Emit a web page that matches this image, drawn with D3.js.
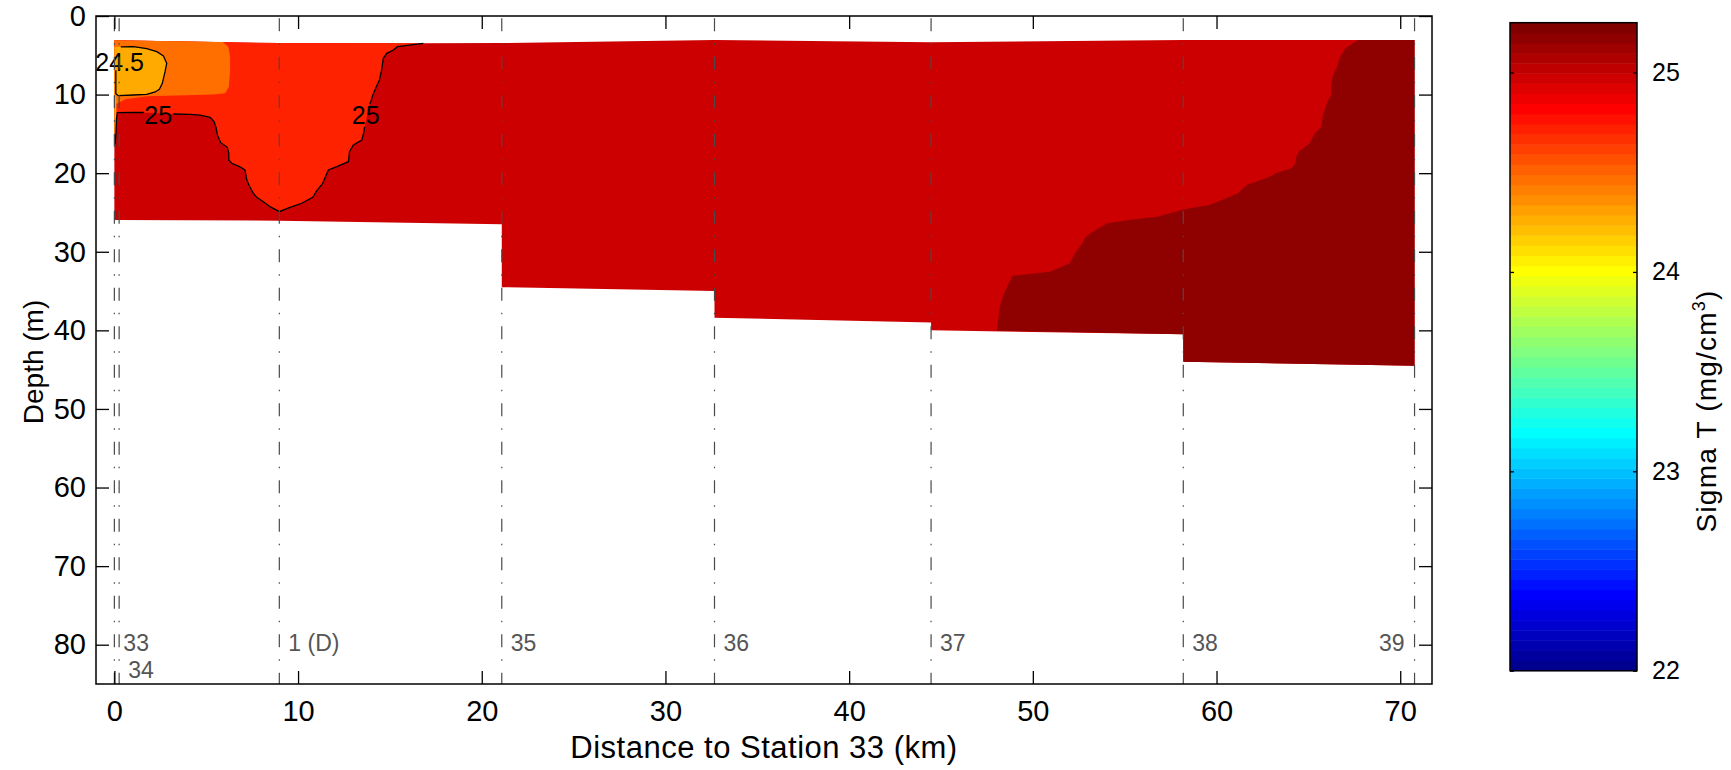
<!DOCTYPE html>
<html><head><meta charset="utf-8">
<script src="https://cdn.jsdelivr.net/npm/d3@7"></script>
<style>body{margin:0;background:#fff}svg{display:block}text{font-family:"Liberation Sans",Arial,sans-serif}</style>
</head><body>
<svg id="chart" width="1731" height="770"></svg>
<script>
// ---------------- DATA ----------------
const xTicks = [0, 10, 20, 30, 40, 50, 60, 70];
const yTicks = [0, 10, 20, 30, 40, 50, 60, 70, 80];
const cbTicks = [22, 23, 24, 25];
const stationNames = ["33", "34", "1 (D)", "35", "36", "37", "38", "39"];
const stationKm    = [0, 0.26, 8.98, 21.09, 32.67, 44.46, 58.19, 70.78];
const stationLabelDepth = [80.8, 84.2, 80.8, 80.8, 80.8, 80.8, 80.8, 80.8];
const levels = [24.25, 24.5, 24.75, 25, 25.25];

// section outline [km, depth]
const surface = [[0,3.1],[8.98,3.45],[16.82,3.48],[21.09,3.45],[32.67,3.05],[44.46,3.35],[58.19,3.05],[70.78,3.05]];
const seabed  = [[70.78,44.5],[58.19,44.0],[58.19,40.5],[44.46,40.0],[44.46,39.0],[32.67,38.4],[32.67,35.0],[21.09,34.5],[21.09,26.5],[8.98,26.05],[0,25.95]];

// sigma-t > 25.25 region
const band2525 = [[67.70,3.05],[67.02,4.11],[66.69,5.38],[66.57,6.45],[66.34,7.51],[66.24,8.78],[66.24,10.05],[66.04,10.9],[65.79,12.6],[65.71,14.08],[65.36,14.93],[65.07,16.2],[64.48,17.26],[64.35,17.9],[64.29,18.74],[64.09,19.38],[63.22,20.01],[62.83,20.52],[61.66,21.5],[61.17,22.56],[60.39,23.32],[59.61,24.05],[58.34,24.55],[57.76,24.9],[56.78,25.53],[55.22,25.95],[54.05,26.38],[53.27,27.44],[52.88,28.08],[52.69,28.93],[52.30,30.2],[52.01,31.47],[50.94,32.53],[48.89,33.08],[48.60,34.44],[48.40,35.5],[48.21,36.98],[48.11,38.68],[48.05,40.04],[58.19,40.5],[58.19,44.0],[70.78,44.5],[70.78,3.05]];

// sigma-t = 25 contour, split where labels sit
const c25a = [[0.04,16.28],[0.09,14.93],[0.11,13.23],[0.16,12.30],[1.03,12.26],[1.6,12.28]];
const c25b = [[3.21,12.47],[4.12,12.51],[4.67,12.6],[5.21,12.89],[5.43,13.44],[5.54,14.25],[5.61,15.14],[5.79,16.12],[6.15,16.71],[6.23,17.47],[6.23,18.32],[6.39,18.74],[6.81,19.17],[7.11,19.59],[7.21,20.87],[7.35,21.63],[7.57,22.56],[7.75,23.07],[8.11,23.63],[8.48,24.26],[8.98,24.9],[9.56,24.34],[10.2,23.83],[10.8,23.07],[11.02,22.22],[11.34,21.29],[11.65,19.59],[12.11,19.17],[12.74,18.54],[12.8,17.26],[13.01,16.41],[13.47,15.78],[13.59,14.72],[13.62,14.1]];
const c25c = [[13.9,11.2],[13.96,10.9],[14.07,10.05],[14.25,9.08],[14.43,8.14],[14.55,6.87],[14.64,5.39],[14.83,4.75],[15.19,4.33],[15.41,3.9],[16.82,3.48]];
// sigma-t = 24.5 contour (line part) and filled interior
const c245 = [[0.08,6.9],[0.08,9.9],[0.22,10.14],[1.04,10.05],[1.76,9.97],[2.22,9.67],[2.45,9.33],[2.61,8.57],[2.76,7.08],[2.85,6.02],[2.67,5.09],[2.31,4.54],[1.76,4.16],[1.04,3.9],[0.35,3.92]];
const band2425 = [[0,3.95],[0.35,3.92],[1.04,3.9],[1.76,4.16],[2.31,4.54],[2.67,5.09],[2.85,6.02],[2.76,7.08],[2.61,8.57],[2.45,9.33],[2.22,9.67],[1.76,9.97],[1.04,10.05],[0.22,10.14],[0,10.1]];
const band2425b = [[0,10.1],[0.1,10.3],[0.11,12.3],[0.04,16.28],[0,16.3]];
const band245 = [[0,3.1],[5.9,3.3],[6.2,3.9],[6.3,5.2],[6.3,6.9],[6.23,9.0],[6.03,9.84],[5.39,10.0],[1.76,10.2],[0.6,10.6],[0.1,11.2],[0,11.2]];
const contourLabels = [
  {text: "24.5", km: 0.29, depth: 5.8},
  {text: "25", km: 2.39, depth: 12.55},
  {text: "25", km: 13.68, depth: 12.55}
];

// ---------------- STYLE ----------------
const bandColors = ["#FFAA00", "#FF6F00", "#FF2200", "#CC0000", "#8F0000"];
const fillColor = d3.scaleOrdinal(levels, bandColors);
const FONT = '"Liberation Sans", Arial, sans-serif';

function jet(m) {
  const n = Math.ceil(m / 4);
  const u = [];
  for (let i = 1; i <= n; i++) u.push(i / n);
  for (let i = 1; i < n; i++) u.push(1);
  for (let i = n; i >= 1; i--) u.push(i / n);
  const g0 = Math.ceil(n / 2) - (m % 4 === 1 ? 1 : 0);
  const R = new Array(m).fill(0), G = new Array(m).fill(0), B = new Array(m).fill(0);
  u.forEach((v, k) => {
    const g = g0 + k + 1, r = g + n, b = g - n;
    if (g >= 1 && g <= m) G[g - 1] = v;
    if (r >= 1 && r <= m) R[r - 1] = v;
    if (b >= 1 && b <= m) B[b - 1] = v;
  });
  return d3.range(m).map(i => d3.rgb(R[i] * 255, G[i] * 255, B[i] * 255).formatHex());
}

// ---------------- DRAW ----------------
const svg = d3.select("#chart");
const x = d3.scaleLinear().domain([-1, 71.73]).range([96, 1432]);
const y = d3.scaleLinear().domain([0, 85]).range([16, 684]);
const line = d3.line().x(d => x(d[0])).y(d => y(d[1]));
const poly = pts => line(pts) + "Z";

const g = svg.append("g");
// base section (25 - 25.25)
g.append("path").attr("d", poly(surface.concat(seabed))).attr("fill", fillColor(25));
g.append("path").attr("d", poly(band2525)).attr("fill", fillColor(25.25));
// 24.75 - 25 band bounded by the 25 contour
const c25full = c25a.concat(c25b, c25c);
const redOrange = surface.filter(p => p[0] <= 16.82).concat(c25full.slice().reverse().slice(1), [[0, 16.3]]);
g.append("path").attr("d", poly(redOrange)).attr("fill", fillColor(24.75));
g.append("path").attr("d", poly(band245)).attr("fill", fillColor(24.5));
g.append("path").attr("d", poly(band2425)).attr("fill", fillColor(24.25));
g.append("path").attr("d", poly(band2425b)).attr("fill", fillColor(24.25));

// contour lines
[c25a, c25b, c25c, c245].forEach(seg => {
  g.append("path").attr("d", line(seg)).attr("fill", "none").attr("stroke", "#000").attr("stroke-width", 1.3);
});
g.selectAll(".clab").data(contourLabels).join("text")
  .attr("x", d => x(d.km)).attr("y", d => y(d.depth)).attr("dy", "0.36em")
  .attr("text-anchor", "middle").attr("font-size", 25).attr("fill", "#000").text(d => d.text);

// station lines
const stations = stationNames.map((n, i) => ({name: n, km: stationKm[i], ld: stationLabelDepth[i]}));
g.selectAll(".stline").data(stations).join("line")
  .attr("x1", d => x(d.km)).attr("x2", d => x(d.km))
  .attr("y1", y(0.3)).attr("y2", y(85))
  .attr("stroke", "#4a4a4a").attr("stroke-width", 1.2)
  .attr("stroke-dasharray", "13,12,1.5,12");
g.selectAll(".stlab").data(stations).join("text")
  .attr("x", (d, i) => i === stations.length - 1 ? x(d.km) - 10 : x(d.km) + 9)
  .attr("y", d => y(d.ld))
  .attr("text-anchor", (d, i) => i === stations.length - 1 ? "end" : "start")
  .attr("font-size", 23).attr("fill", "#555").text(d => d.name);

// axes
const ax = svg.append("g").attr("font-family", FONT);
const xb = ax.append("g").attr("transform", `translate(0,${y(85)})`)
  .call(d3.axisBottom(x).tickValues(xTicks).tickSizeInner(-13).tickSizeOuter(0).tickPadding(16));
const xt = ax.append("g").attr("transform", `translate(0,${y(0)})`)
  .call(d3.axisTop(x).tickValues(xTicks).tickSizeInner(-13).tickSizeOuter(0).tickFormat(""));
const yl = ax.append("g").attr("transform", `translate(${x(-1)},0)`)
  .call(d3.axisLeft(y).tickValues(yTicks).tickSizeInner(-13).tickSizeOuter(0).tickPadding(10));
const yr = ax.append("g").attr("transform", `translate(${x(71.73)},0)`)
  .call(d3.axisRight(y).tickValues(yTicks).tickSizeInner(-13).tickSizeOuter(0).tickFormat(""));
[xb, xt, yl, yr].forEach(a => {
  a.selectAll(".domain").remove();
  a.selectAll(".tick line").attr("stroke", "#000").attr("stroke-width", 1.3);
  a.selectAll(".tick text").attr("font-size", 29).attr("fill", "#000").attr("font-family", FONT);
});
ax.append("rect").attr("x", x(-1)).attr("y", y(0)).attr("width", x(71.73) - x(-1)).attr("height", y(85) - y(0))
  .attr("fill", "none").attr("stroke", "#000").attr("stroke-width", 1.5);

ax.append("text").attr("x", (x(-1) + x(71.73)) / 2).attr("y", 758).attr("text-anchor", "middle")
  .attr("font-size", 31).attr("letter-spacing", 0.5).text("Distance to Station 33 (km)");
ax.append("text").attr("transform", `translate(43,362) rotate(-90)`).attr("text-anchor", "middle")
  .attr("font-size", 28).text("Depth (m)");

// colorbar
const cmap = jet(64);
const cbMin = 22, cbMax = 25.25;
const cy = d3.scaleLinear().domain([cbMin, cbMax]).range([670.7, 22.7]);
const cbX = 1510, cbW = 127;
const step = (cbMax - cbMin) / cmap.length;
const cb = svg.append("g");
cb.selectAll("rect.c").data(cmap).join("rect")
  .attr("x", cbX).attr("width", cbW)
  .attr("y", (d, i) => cy(cbMin + (i + 1) * step))
  .attr("height", (d, i) => cy(cbMin + i * step) - cy(cbMin + (i + 1) * step) + 0.5)
  .attr("fill", d => d);
cb.append("rect").attr("x", cbX).attr("y", cy(cbMax)).attr("width", cbW).attr("height", cy(cbMin) - cy(cbMax))
  .attr("fill", "none").attr("stroke", "#000").attr("stroke-width", 1.5);
const cbr = cb.append("g").attr("transform", `translate(${cbX + cbW},0)`)
  .call(d3.axisRight(cy).tickValues(cbTicks).tickSizeInner(-4).tickSizeOuter(0).tickPadding(15).tickFormat(d3.format("d")));
const cbl = cb.append("g").attr("transform", `translate(${cbX},0)`)
  .call(d3.axisLeft(cy).tickValues(cbTicks).tickSizeInner(-4).tickSizeOuter(0).tickFormat(""));
[cbr, cbl].forEach(a => {
  a.selectAll(".domain").remove();
  a.selectAll(".tick line").attr("stroke", "#000").attr("stroke-width", 1.3);
  a.selectAll(".tick text").attr("font-size", 25).attr("fill", "#000").attr("font-family", FONT);
});
const cbLab = cb.append("text").attr("transform", `translate(1716,411) rotate(-90)`)
  .attr("text-anchor", "middle").attr("font-size", 28).attr("letter-spacing", 1.2).attr("font-family", FONT);
cbLab.append("tspan").text("Sigma T (mg/cm");
cbLab.append("tspan").attr("font-size", 18).attr("dy", -11).text("3");
cbLab.append("tspan").attr("dy", 11).text(")");
</script>
</body></html>
